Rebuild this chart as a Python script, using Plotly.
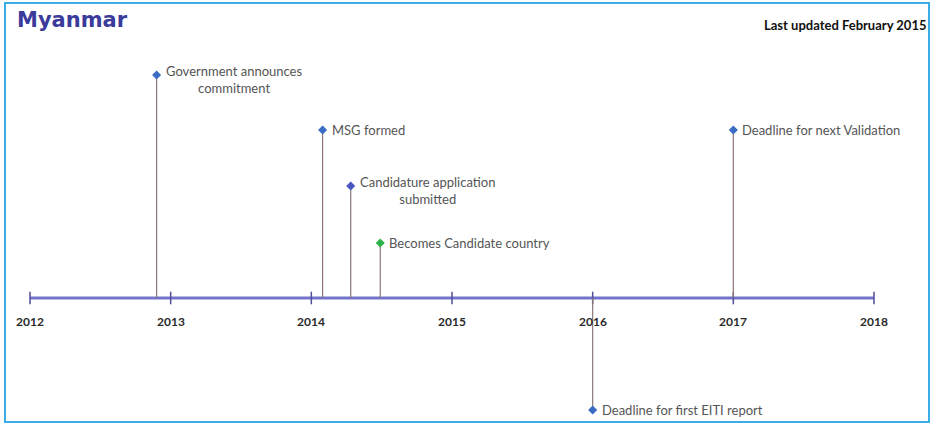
import plotly.graph_objects as go

# ---- data ----
event_labels = [
    "Government announces<br>commitment",
    "MSG formed",
    "Candidature application<br>submitted",
    "Becomes Candidate country",
    "Deadline for first EITI report",
    "Deadline for next Validation",
]
event_dates = [2012.90, 2014.08, 2014.28, 2014.49, 2016.0, 2017.0]
event_levels = [223, 168, 112, 55, -112, 168]
event_colors = ["#3b6cc4", "#3b6cc4", "#4a55c0", "#2fb24a", "#3b6cc4", "#3b6cc4"]
years = [2012, 2013, 2014, 2015, 2016, 2017, 2018]
year_labels = [str(y) for y in years]

fig = go.Figure()

# main timeline
fig.add_trace(go.Scatter(x=[years[0], years[-1]], y=[0, 0], mode="lines",
                         line=dict(color="#7474cc", width=3), hoverinfo="skip"))
# year ticks
fig.add_trace(go.Scatter(x=years, y=[0] * len(years), mode="markers",
                         marker=dict(symbol="line-ns", size=9,
                                     line=dict(color="#4e4e9a", width=1.5)),
                         hoverinfo="skip"))

# stems
for d, lv in zip(event_dates, event_levels):
    fig.add_trace(go.Scatter(x=[d, d], y=[0, lv], mode="lines",
                             line=dict(color="#8c7676", width=1.2), hoverinfo="skip"))

# markers
fig.add_trace(go.Scatter(x=event_dates, y=event_levels, mode="markers",
                         marker=dict(symbol="diamond", size=7, color=event_colors),
                         hoverinfo="skip"))

annotations = []
for lab, d, lv in zip(event_labels, event_dates, event_levels):
    two = "<br>" in lab
    annotations.append(dict(x=d, y=lv, xref="x", yref="y", text=lab, showarrow=False,
                            xanchor="left", yanchor="middle", align="center",
                            xshift=7, yshift=-4 if two else 0,
                            font=dict(family="Lato", size=13, color="#555555")))
for y, t in zip(years, year_labels):
    annotations.append(dict(x=y, y=0, xref="x", yref="y", text="<b>%s</b>" % t,
                            showarrow=False, xanchor="center", yanchor="middle",
                            yshift=-23, font=dict(family="Lato", size=12, color="#2a2a2a")))

annotations.append(dict(x=15 / 932, y=1 - 20 / 425, xref="paper", yref="paper",
                        text="<b>Myanmar</b>", showarrow=False, xanchor="left", yanchor="middle",
                        font=dict(family="DejaVu Sans", size=21, color="#3b3b9c")))
annotations.append(dict(x=929 / 932, y=1 - 25 / 425, xref="paper", yref="paper",
                        text="<b>Last updated February 2015</b>", showarrow=False,
                        xanchor="right", yanchor="middle",
                        font=dict(family="Lato", size=13, color="#111111")))

k = 844 / 6.0
x0 = 2012 - 30 / k
x1 = x0 + 932 / k

fig.update_layout(
    width=932, height=425,
    margin=dict(l=0, r=0, t=0, b=0),
    paper_bgcolor="white", plot_bgcolor="white",
    showlegend=False,
    xaxis=dict(range=[x0, x1], visible=False, fixedrange=True),
    yaxis=dict(range=[-127, 298], visible=False, fixedrange=True),
    annotations=annotations,
    shapes=[dict(type="rect", xref="paper", yref="paper",
                 x0=5 / 932, x1=929 / 932, y0=1 - 422 / 425, y1=1 - 3 / 425,
                 line=dict(color="#3aaee6", width=2), fillcolor="rgba(0,0,0,0)")],
)

fig.write_html("out.html", config={"displayModeBar": False},
               post_script="document.body.style.margin='0';document.body.style.overflow='hidden';")
